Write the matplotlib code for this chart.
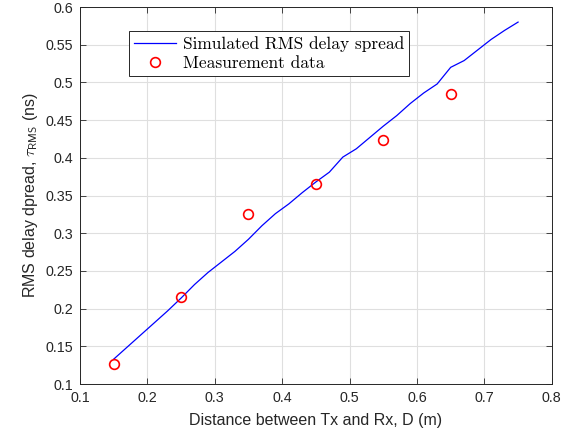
import numpy as np
import matplotlib
matplotlib.use('Agg')
import matplotlib.pyplot as plt

# simulated curve
dist_sim = [0.15, 0.17, 0.19, 0.21, 0.23, 0.25, 0.27, 0.29, 0.31, 0.33,
            0.35, 0.37, 0.39, 0.41, 0.43, 0.45, 0.47, 0.49, 0.51, 0.53,
            0.55, 0.57, 0.59, 0.61, 0.63, 0.65, 0.67, 0.69, 0.71, 0.73, 0.75]
rms_sim = [0.133, 0.149, 0.165, 0.181, 0.197, 0.214, 0.232, 0.248, 0.262, 0.276,
           0.292, 0.310, 0.326, 0.339, 0.354, 0.368, 0.381, 0.401, 0.412, 0.427,
           0.442, 0.456, 0.472, 0.486, 0.498, 0.520, 0.529, 0.543, 0.557, 0.569, 0.580]

# measurement points
dist_meas = [0.15, 0.25, 0.35, 0.45, 0.55, 0.65]
rms_meas = [0.127, 0.215, 0.326, 0.365, 0.424, 0.485]

plt.rcParams['mathtext.fontset'] = 'cm'
plt.rcParams['font.family'] = ['Liberation Sans', 'DejaVu Sans']

fig = plt.figure(figsize=(5.79, 4.38), dpi=100)
ax = fig.add_axes([0.138, 0.123, 0.815, 0.861])

ax.plot(dist_sim, rms_sim, color='#0000ff', linewidth=0.9, label='Simulated RMS delay spread')
ax.plot(dist_meas, rms_meas, 'o', markerfacecolor='none', markeredgecolor='#ff0000',
        markersize=7, markeredgewidth=1.2, label='Measurement data')

ax.set_xlim(0.1, 0.8)
ax.set_ylim(0.1, 0.6)
ax.set_xticks(np.arange(0.1, 0.81, 0.1))
ax.set_yticks(np.arange(0.1, 0.61, 0.05))
ax.set_xticklabels(['0.1', '0.2', '0.3', '0.4', '0.5', '0.6', '0.7', '0.8'])
ax.set_yticklabels(['0.1', '0.15', '0.2', '0.25', '0.3', '0.35', '0.4', '0.45', '0.5', '0.55', '0.6'])
ax.grid(True, color='#dfdfdf', linewidth=0.8)
ax.set_axisbelow(True)
ax.tick_params(direction='in', top=True, right=True, labelsize=10.3, colors='#262626',
               length=4, width=0.6, pad=5)
for sp in ax.spines.values():
    sp.set_color('#262626')
    sp.set_linewidth(0.7)

ax.set_xlabel('Distance between Tx and Rx, D (m)', fontsize=11.5, color='#262626', labelpad=6)
ax.set_ylabel(r'RMS delay dpread, $\tau_{\mathsf{RMS}}$ (ns)', fontsize=11.5, color='#262626', labelpad=4)

leg = ax.legend(loc='upper left', bbox_to_anchor=(0.104, 0.936), prop={'family': 'cmr10', 'size': 12.5},
                fancybox=False, edgecolor='#262626', framealpha=1, handlelength=2.4,
                borderpad=0.3, labelspacing=0.2, handletextpad=0.4, borderaxespad=0)
leg.get_frame().set_linewidth(0.7)

fig.savefig('out.png', dpi=100)
